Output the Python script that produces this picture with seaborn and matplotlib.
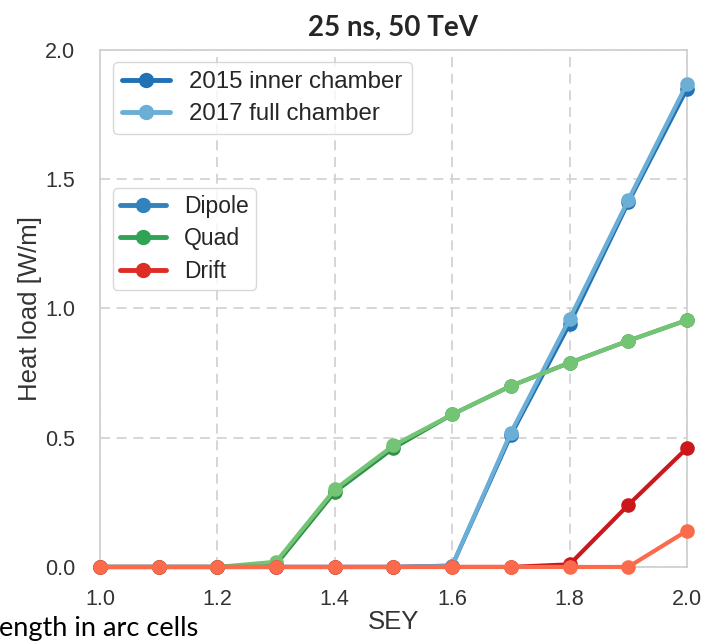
import numpy as np
import pandas as pd
import matplotlib
matplotlib.use("Agg")
import matplotlib.pyplot as plt
from matplotlib.lines import Line2D
import seaborn as sns

# Secondary electron yield scan
sey = [1.0, 1.1, 1.2, 1.3, 1.4, 1.5, 1.6, 1.7, 1.8, 1.9, 2.0]

# Heat load [W/m] per element type and chamber model
dipole_2015 = [0.0, 0.0, 0.0, 0.0, 0.0, 0.0, 0.005, 0.51, 0.94, 1.41, 1.85]
dipole_2017 = [0.0, 0.0, 0.0, 0.0, 0.0, 0.0, 0.005, 0.52, 0.96, 1.42, 1.87]
quad_2015 = [0.0, 0.0, 0.0, 0.01, 0.29, 0.46, 0.59, 0.70, 0.79, 0.875, 0.955]
quad_2017 = [0.0, 0.0, 0.0, 0.02, 0.30, 0.47, 0.59, 0.70, 0.79, 0.875, 0.955]
drift_2015 = [0.0, 0.0, 0.0, 0.0, 0.0, 0.0, 0.0, 0.0, 0.01, 0.24, 0.46]
drift_2017 = [0.0, 0.0, 0.0, 0.0, 0.0, 0.0, 0.0, 0.0, 0.0, 0.0, 0.14]

title = "25 ns, 50 TeV"
xlabel = "SEY"
ylabel = "Heat load [W/m]"
chamber_labels = ["2015 inner chamber", "2017 full chamber"]
element_labels = ["Dipole", "Quad", "Drift"]

sns.set_theme(style="whitegrid")
plt.rcParams.update({
    "font.family": ["Liberation Sans", "DejaVu Sans"],
    "grid.linestyle": (0, (6, 4)),
    "grid.color": "#d0d0d0",
    "grid.linewidth": 1.2,
    "axes.edgecolor": "#cfcfcf",
    "xtick.color": "#333333",
    "ytick.color": "#333333",
    "axes.labelcolor": "#333333",
})

fig = plt.figure(figsize=(7.09, 6.41), dpi=100)
ax = fig.add_axes([0.141, 0.1155, 0.828, 0.8066])

series = [
    (dipole_2015, "#2171b5"),
    (quad_2015, "#2e9148"),
    (dipole_2017, "#6baed6"),
    (quad_2017, "#74c476"),
    (drift_2015, "#cb181d"),
    (drift_2017, "#fb6a4a"),
]
for values, color in series:
    df = pd.DataFrame({"SEY": sey, "load": values})
    sns.lineplot(data=df, x="SEY", y="load", ax=ax, color=color,
                 marker="o", markersize=10.5, markeredgewidth=0,
                 linewidth=3, clip_on=False, zorder=3)

ax.set_xlim(1.0, 2.0)
ax.set_ylim(0.0, 2.0)
ax.set_xticks([1.0, 1.2, 1.4, 1.6, 1.8, 2.0])
ax.set_yticks([0.0, 0.5, 1.0, 1.5, 2.0])
ax.tick_params(axis="y", labelsize=15.5, pad=12)
ax.tick_params(axis="x", labelsize=15.5, pad=10)
ax.set_xlabel(xlabel, fontsize=18.5, labelpad=0)
ax.set_ylabel(ylabel, fontsize=18.5, labelpad=2)
ax.set_title(title, fontsize=20, fontweight="bold",
             family=["Lato", "DejaVu Sans"], pad=10)

handles1 = [Line2D([], [], color=c, marker="o", markersize=10, linewidth=3.5)
            for c in ["#2171b5", "#6baed6"]]
leg1 = ax.legend(handles1, chamber_labels, loc="upper left",
                 bbox_to_anchor=(0.022, 0.977), fontsize=17.3, frameon=True,
                 handlelength=2.0, borderpad=0.38, labelspacing=0.42,
                 borderaxespad=0)
leg1.get_frame().set_edgecolor("#cfcfcf")
ax.add_artist(leg1)

handles2 = [Line2D([], [], color=c, marker="o", markersize=10, linewidth=3.5)
            for c in ["#3182bd", "#31a354", "#de2d26"]]
leg2 = ax.legend(handles2, element_labels, loc="upper left",
                 bbox_to_anchor=(0.022, 0.733), fontsize=16.5, frameon=True,
                 handlelength=2.0, borderpad=0.3, labelspacing=0.42,
                 borderaxespad=0)
leg2.get_frame().set_edgecolor("#cfcfcf")

fig.text(-0.002, 0.008, "ength in arc cells", fontsize=19.5,
         family=["Lato", "DejaVu Sans"], color="black", ha="left",
         va="baseline")

fig.savefig("out.png", dpi=100)
